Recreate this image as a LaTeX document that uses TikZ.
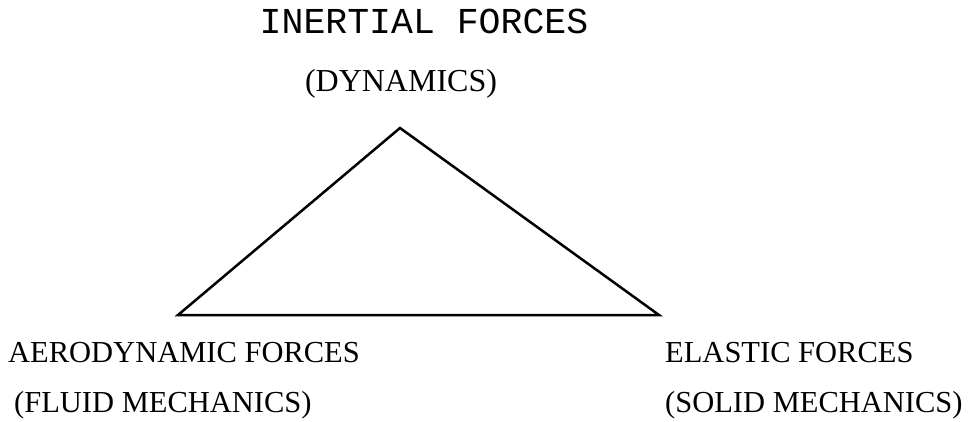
\documentclass[tikz,border=0pt]{standalone}
\usepackage{fontspec}
\setmainfont{Liberation Serif}
\newfontfamily\courfont{Liberation Mono}
\begin{document}
\begin{tikzpicture}[x=1pt,y=-1pt,
  lbl/.style={inner sep=0pt, font=\fontsize{30.5}{30.5}\selectfont},
  mono/.style={inner sep=0pt, font=\courfont\fontsize{36.5}{36.5}\selectfont},
  edge/.style={line width=2.5pt, line join=miter}]
\useasboundingbox (0,0) rectangle (968,421);
\node[mono, anchor=base] (inert) at (424,33) {INERTIAL FORCES};
\node[lbl, anchor=base, font=\fontsize{32}{32}\selectfont] (dyn) at (401,91) {(DYNAMICS)};
\node[lbl, anchor=base west] (aero) at (8,362) {AERODYNAMIC FORCES};
\node[lbl, anchor=base west] (fluid) at (14,412) {(FLUID MECHANICS)};
\node[lbl, anchor=base west] (elast) at (665,362) {ELASTIC FORCES};
\node[lbl, anchor=base west] (solid) at (665,412) {(SOLID MECHANICS)};
\coordinate (top) at (400,128);
\coordinate (lc) at (178,315);
\coordinate (rc) at (659,315);
\draw[edge] (top) -- (lc) -- (rc) -- cycle;
\end{tikzpicture}
\end{document}
